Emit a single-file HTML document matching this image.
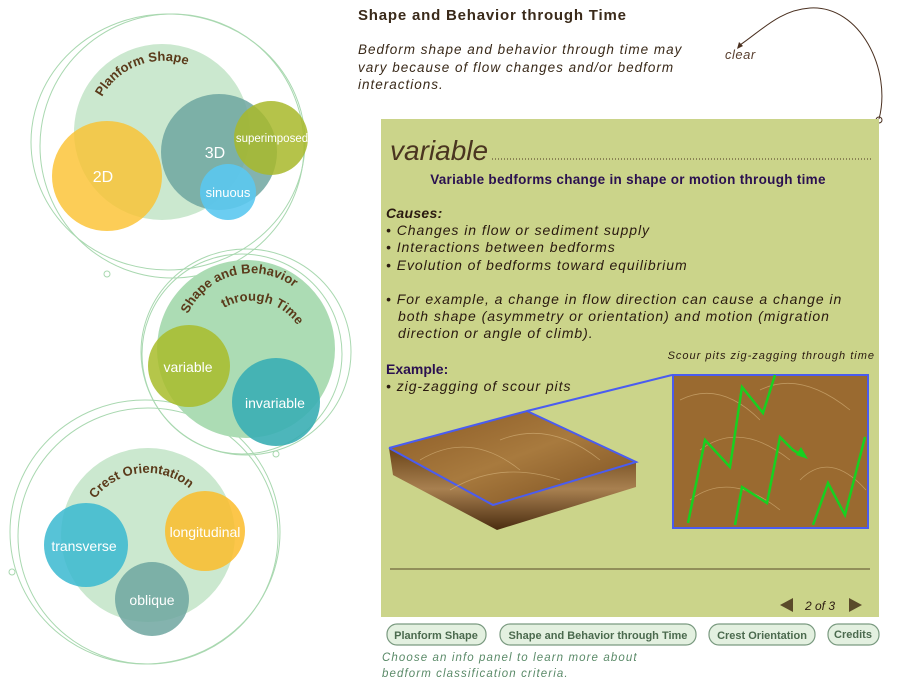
<!DOCTYPE html>
<html><head><meta charset="utf-8"><style>
html,body{margin:0;padding:0;background:#fff;}
svg{display:block;}
text{font-family:"Liberation Sans",sans-serif;}
</style></head><body>
<svg width="916" height="687" viewBox="0 0 916 687" xmlns="http://www.w3.org/2000/svg">
<defs>
<linearGradient id="wood" x1="0" y1="0" x2="1" y2="1">
<stop offset="0" stop-color="#8a5a25"/><stop offset="0.5" stop-color="#a87a3e"/><stop offset="1" stop-color="#7a4e20"/>
</linearGradient>
<linearGradient id="side" x1="0" y1="0" x2="0" y2="1">
<stop offset="0" stop-color="#6a4418"/><stop offset="0.5" stop-color="#a88050"/><stop offset="1" stop-color="#4a2c10"/>
</linearGradient>
<path id="arcP" d="M102,97 A70,70 0 0 1 198,70"/>
<path id="arcS1" d="M188,314 A70,70 0 0 1 292,286"/>
<path id="arcS2" d="M224,308 A55,55 0 0 1 302,334"/>
<path id="arcC" d="M95,499 A65,65 0 0 1 190,489"/>
</defs>

<g fill="none" stroke="#a9d8b0" stroke-width="1">
<ellipse cx="168" cy="142" rx="137" ry="128"/>
<ellipse cx="172" cy="146" rx="132" ry="132"/>
<circle cx="107" cy="274" r="3"/>
<ellipse cx="246" cy="352" rx="105" ry="103"/>
<ellipse cx="242" cy="354" rx="100" ry="100"/>
<circle cx="276" cy="454" r="3"/>
<ellipse cx="145" cy="532" rx="135" ry="132"/>
<ellipse cx="148" cy="536" rx="130" ry="128"/>
<circle cx="12" cy="572" r="3"/>
</g>
<circle cx="162" cy="132" r="88" fill="#cbe8cf"/>
<circle cx="107" cy="176" r="55" fill="#fbc02d" fill-opacity="0.8"/>
<circle cx="219" cy="152" r="58" fill="#6fa6a0" fill-opacity="0.85"/>
<circle cx="228" cy="192" r="28" fill="#5bc8f0" fill-opacity="0.9"/>
<circle cx="271" cy="138" r="37" fill="#a8b82a" fill-opacity="0.85"/>
<text font-size="13" font-weight="bold" fill="#5a3a1a"><textPath href="#arcP">Planform Shape</textPath></text>
<text x="103" y="182" font-size="16" fill="#fff" text-anchor="middle">2D</text>
<text x="215" y="158" font-size="16" fill="#fff" text-anchor="middle">3D</text>
<text x="228" y="197" font-size="13" fill="#fff" text-anchor="middle">sinuous</text>
<text x="272" y="142" font-size="11.5" fill="#fff" text-anchor="middle">superimposed</text>

<circle cx="246" cy="349" r="89" fill="#acdcb4"/>
<circle cx="189" cy="366" r="41" fill="#a8bc2a" fill-opacity="0.85"/>
<circle cx="276" cy="402" r="44" fill="#3aaeb4" fill-opacity="0.9"/>
<text font-size="13" font-weight="bold" fill="#5a3a1a"><textPath href="#arcS1">Shape and Behavior</textPath></text>
<text font-size="13" font-weight="bold" fill="#5a3a1a"><textPath href="#arcS2">through Time</textPath></text>
<text x="188" y="372" font-size="14" fill="#fff" text-anchor="middle">variable</text>
<text x="275" y="408" font-size="14" fill="#fff" text-anchor="middle">invariable</text>

<circle cx="148" cy="535" r="87" fill="#cbe8cf"/>
<circle cx="86" cy="545" r="42" fill="#3ab8d0" fill-opacity="0.85"/>
<circle cx="205" cy="531" r="40" fill="#fbbc2a" fill-opacity="0.85"/>
<circle cx="152" cy="599" r="37" fill="#6fa6a0" fill-opacity="0.85"/>
<text font-size="13" font-weight="bold" fill="#5a3a1a"><textPath href="#arcC">Crest Orientation</textPath></text>
<text x="84" y="551" font-size="14" fill="#fff" text-anchor="middle">transverse</text>
<text x="205" y="537" font-size="14" fill="#fff" text-anchor="middle">longitudinal</text>
<text x="152" y="605" font-size="14" fill="#fff" text-anchor="middle">oblique</text>

<text x="358" y="20" font-size="15" font-weight="bold" fill="#3a2a1a" letter-spacing="0.8">Shape and Behavior through Time</text>
<g font-size="13.5" font-style="italic" fill="#3a2a1a" letter-spacing="1">
<text x="358" y="54">Bedform shape and behavior through time may</text>
<text x="358" y="72">vary because of flow changes and/or bedform</text>
<text x="358" y="89">interactions.</text>
</g>
<text x="725" y="59" font-size="13" font-style="italic" fill="#5a4030" letter-spacing="0.5">clear</text>
<path d="M879,119 C892,70 860,5 810,8 C780,10 762,30 740,45" fill="none" stroke="#4a3020" stroke-width="1"/>
<path d="M737,49 l2,-7 l4,4 z" fill="#4a3020"/>
<circle cx="879" cy="120" r="3" fill="none" stroke="#4a3020"/>

<rect x="381" y="119" width="498" height="498" fill="#cbd48a"/>
<text x="390" y="160" font-size="28" font-style="italic" fill="#4a3520">variable</text>
<line x1="492" y1="159" x2="871" y2="159" stroke="#4a3520" stroke-dasharray="1,2"/>
<text x="628" y="184" font-size="13.5" font-weight="bold" fill="#2a1050" text-anchor="middle" letter-spacing="0.3">Variable bedforms change in shape or motion through time</text>
<g font-size="14" font-style="italic" fill="#2a1a10" letter-spacing="0.95">
<text x="386" y="218" font-weight="bold" letter-spacing="0.3">Causes:</text>
<text x="386" y="235">• Changes in flow or sediment supply</text>
<text x="386" y="252">• Interactions between bedforms</text>
<text x="386" y="270">• Evolution of bedforms toward equilibrium</text>
<text x="386" y="304">• For example, a change in flow direction can cause a change in</text>
<text x="398" y="321">both shape (asymmetry or orientation) and motion (migration</text>
<text x="398" y="338">direction or angle of climb).</text>
<text x="386" y="391">• zig-zagging of scour pits</text>
</g>
<text x="386" y="374" font-size="14" font-weight="bold" fill="#2a1050">Example:</text>
<text x="875" y="359" font-size="11" font-style="italic" fill="#2a1a10" text-anchor="end" letter-spacing="1">Scour pits zig-zagging through time</text>

<polygon points="389,448 493,505 636,462 636,487 497,530 393,475" fill="url(#side)"/>
<polygon points="389,448 527,411 636,462 493,505" fill="url(#wood)"/>
<polyline points="389,448 527,411 636,462 493,505 389,448" fill="none" stroke="#4a5cf0" stroke-width="2"/>
<line x1="527" y1="411" x2="672" y2="375" stroke="#4a5cf0" stroke-width="2"/>
<rect x="673" y="375" width="195" height="153" fill="#9a6a30" stroke="#4a5cf0" stroke-width="2"/>
<g fill="none" stroke="#d8b880" stroke-width="0.8" opacity="0.6">
<path d="M680,400 Q720,380 760,420 M700,450 Q740,420 790,460 M760,390 Q800,370 850,410 M690,500 Q730,470 780,510 M800,480 Q830,450 866,490 M420,460 Q470,430 520,470 M500,440 Q550,420 600,460 M450,490 Q500,460 560,480"/>
</g>
<g fill="none" stroke="#18d020" stroke-width="2.5">
<polyline points="688,523 705,440 730,467 742,387 763,413 775,375"/>
<polyline points="735,525 742,487 767,503 780,437 793,450 803,456"/>
<polyline points="813,525 828,483 845,515 865,437"/>
</g>
<polygon points="808,459 796,455 801,447" fill="#18d020"/>

<line x1="390" y1="569" x2="870" y2="569" stroke="#5a4a2a" stroke-width="1"/>
<polygon points="780,605 793,598 793,612" fill="#5a4a2a"/>
<text x="820" y="610" font-size="12" font-style="italic" fill="#2a1a10" text-anchor="middle">2 of 3</text>
<polygon points="862,605 849,598 849,612" fill="#5a4a2a"/>

<g fill="#e3f0e0" stroke="#7a9a80" stroke-width="1.2">
<rect x="387" y="624" width="99" height="21" rx="10"/>
<rect x="500" y="624" width="196" height="21" rx="10"/>
<rect x="709" y="624" width="106" height="21" rx="10"/>
<rect x="828" y="624" width="51" height="21" rx="10"/>
</g>
<g font-size="11" font-weight="bold" fill="#4b6a4e" text-anchor="middle">
<text x="436" y="639">Planform Shape</text>
<text x="598" y="639">Shape and Behavior through Time</text>
<text x="762" y="639">Crest Orientation</text>
<text x="853" y="638">Credits</text>
</g>
<g font-size="11.5" font-style="italic" fill="#5a8a68" letter-spacing="1.1">
<text x="382" y="661">Choose an info panel to learn more about</text>
<text x="382" y="677">bedform classification criteria.</text>
</g>
</svg>
</body></html>
